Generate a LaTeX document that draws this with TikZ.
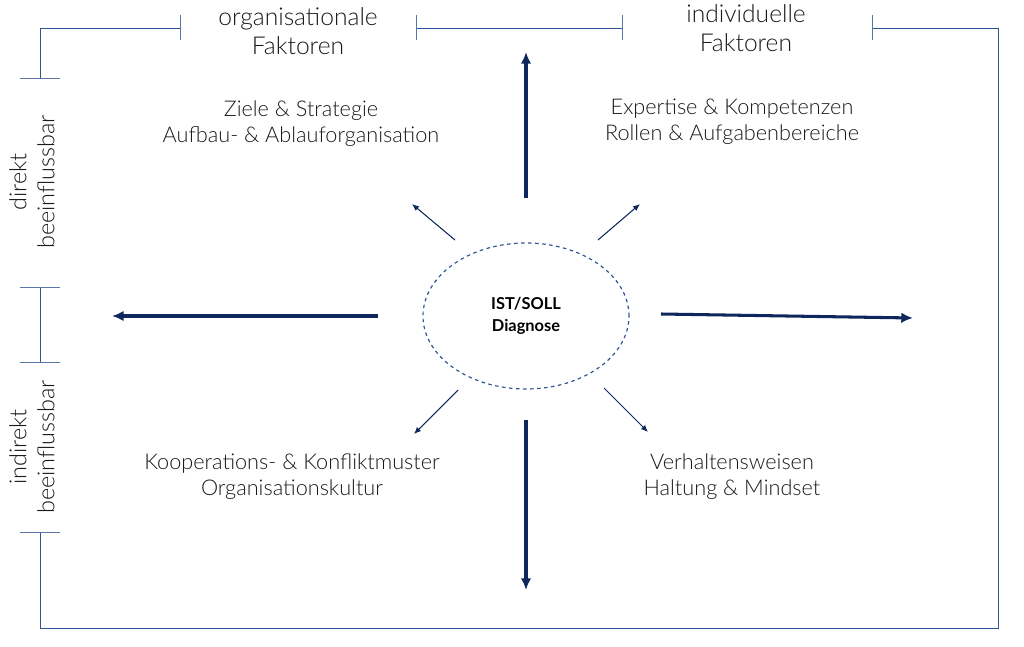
\documentclass[tikz,border=0pt]{standalone}
\usepackage{fontspec}
\setmainfont{Lato Light}[BoldFont=Lato Bold]
\usetikzlibrary{arrows.meta, positioning, shapes.geometric}
\definecolor{framblue}{RGB}{47, 84, 150}
\definecolor{navy1}{RGB}{14, 40, 94}
\tikzset{
  frameline/.style={draw=framblue, line width=0.8pt},
  tickline/.style={draw=framblue!80, line width=0.5pt},
  bigarrow/.style={draw=navy1, line width=2.6pt, -{Latex[length=10pt,width=9pt]}},
  smallarrow/.style={draw=navy1, line width=0.9pt, -{Latex[length=6pt,width=5pt]}},
  label/.style={font=\fontsize{18.5}{22}\selectfont, align=center, text=black!90},
  sidelabel/.style={font=\fontsize{20}{24}\selectfont, align=center, text=black!90, rotate=90}
}
\begin{document}
\begin{tikzpicture}[x=0.03cm, y=-0.03cm]
  \useasboundingbox (0,0) rectangle (1024,647);

  % frame
  \draw[frameline] (180,28) -- (40,28) -- (40,78);
  \draw[frameline] (416,28) -- (622,28);
  \draw[frameline] (872,28) -- (998,28) -- (998,628) -- (40,628) -- (40,532);
  \draw[frameline] (40,287) -- (40,362);
  \foreach \x in {180,416,622,872} \draw[tickline] (\x,15) -- (\x,40);
  \foreach \y in {78,287,362,532} \draw[tickline] (20,\y) -- (60,\y);

  % headings
  \node[label, font=\fontsize{21}{25}\selectfont] (orgf) at (298,31) {organisationale\\Faktoren};
  \node[label, font=\fontsize{21}{25}\selectfont] (indf) at (746,28) {individuelle\\Faktoren};
  \node[sidelabel] (dir) at (32,182) {direkt\\beeinflussbar};
  \node[sidelabel] (indir) at (32,447) {indirekt\\beeinflussbar};

  % centre
  \node[draw=framblue, dashed, line width=1pt, ellipse, minimum width=6.18cm, minimum height=4.38cm,
        inner sep=0pt, font=\bfseries\fontsize{14}{19}\selectfont, align=center] (diag) at (526,316) {IST/SOLL\\Diagnose};

  % factor texts
  \node[label] (zs) at (301,124) {Ziele \& Strategie\\Aufbau- \& Ablauforganisation};
  \node[label] (ek) at (732,122) {Expertise \& Kompetenzen\\Rollen \& Aufgabenbereiche};
  \node[label] (km) at (292,477) {Kooperations- \& Konfliktmuster\\Organisationskultur};
  \node[label] (vh) at (732,477) {Verhaltensweisen\\Haltung \& Mindset};

  % arrows
  \coordinate (up) at (526,52);   \coordinate (down) at (526,590);
  \coordinate (left) at (112,316); \coordinate (right) at (913,318);
  \draw[bigarrow] (526,198) -- (up);
  \draw[bigarrow] (526,420) -- (down);
  \draw[bigarrow] (378,316) -- (left);
  \draw[bigarrow] (661,314) -- (right);
  \draw[smallarrow] (455,240) -- (412,204);
  \draw[smallarrow] (598,240) -- (640,204);
  \draw[smallarrow] (458,390) -- (414,434);
  \draw[smallarrow] (604,388) -- (648,432);
\end{tikzpicture}
\end{document}
